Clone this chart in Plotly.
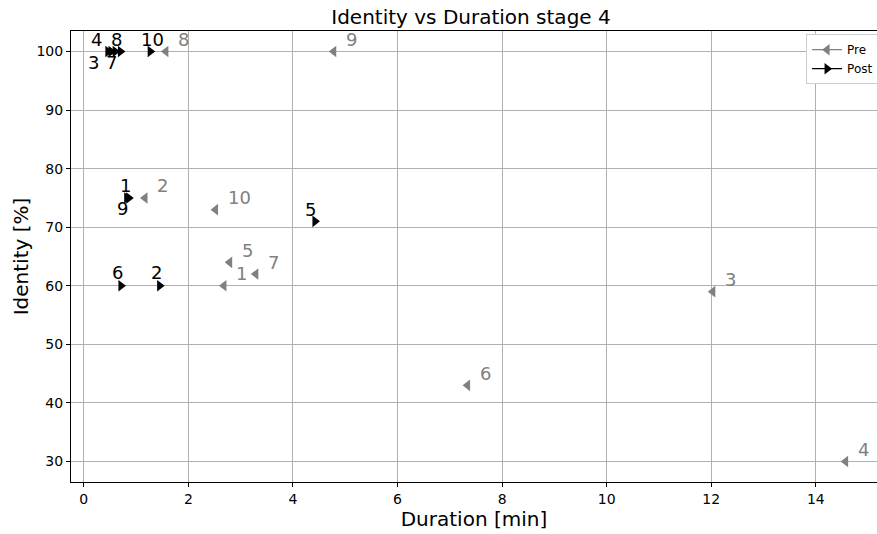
import plotly.graph_objects as go

ids = ["1", "2", "3", "4", "5", "6", "7", "8", "9", "10"]

pre_duration = [2.68, 1.17, 12.03, 14.57, 2.79, 7.34, 3.29, 1.57, 4.78, 2.52]
pre_identity = [60, 75, 59, 30, 64, 43, 62, 100, 100, 73]

post_duration = [0.82, 1.45, 0.52, 0.46, 4.42, 0.71, 0.60, 0.70, 0.86, 1.27]
post_identity = [75, 60, 100, 100, 71, 60, 100, 100, 75, 100]

x_ticks = [0, 2, 4, 6, 8, 10, 12, 14]
y_ticks = [30, 40, 50, 60, 70, 80, 90, 100]

# label pixel offsets (style only)
pre_shift = [(10, 12)] * 10
post_shift = [(-9, 12), (-11, 13), (-25, -11), (-19, 12), (-12, 12),
              (-11, 13), (-11, -11), (-11, 12), (-14, -11), (-11, 12)]

GRAY = "#808080"
FONT = "DejaVu Sans"

fig = go.Figure()
fig.add_trace(go.Scatter(x=pre_duration, y=pre_identity, mode="markers",
                         marker=dict(symbol="triangle-left", size=10, color=GRAY),
                         showlegend=False, hoverinfo="skip"))
fig.add_trace(go.Scatter(x=post_duration, y=post_identity, mode="markers",
                         marker=dict(symbol="triangle-right", size=10, color="black"),
                         showlegend=False, hoverinfo="skip"))
fig.add_trace(go.Scatter(x=[None], y=[None], mode="lines+markers", name="Pre",
                         line=dict(color=GRAY, width=1.2),
                         marker=dict(symbol="triangle-left", size=10, color=GRAY)))
fig.add_trace(go.Scatter(x=[None], y=[None], mode="lines+markers", name="Post",
                         line=dict(color="black", width=1.2),
                         marker=dict(symbol="triangle-right", size=10, color="black")))

ann = []
for i, t in enumerate(ids):
    ann.append(dict(x=pre_duration[i], y=pre_identity[i], text=t, showarrow=False,
                    xanchor="left", yanchor="middle", xshift=pre_shift[i][0],
                    yshift=pre_shift[i][1], font=dict(family=FONT, size=18, color=GRAY)))
for i, t in enumerate(ids):
    ann.append(dict(x=post_duration[i], y=post_identity[i], text=t, showarrow=False,
                    xanchor="left", yanchor="middle", xshift=post_shift[i][0],
                    yshift=post_shift[i][1], font=dict(family=FONT, size=18, color="black")))

fig.update_layout(
    width=877, height=534,
    margin=dict(l=71, r=0, t=31, b=52, autoexpand=False),
    paper_bgcolor="white", plot_bgcolor="white",
    font=dict(family=FONT, size=14, color="black"),
    title=dict(text="Identity vs Duration stage 4", x=471 / 877, xanchor="center",
               y=1 - 17 / 534, yanchor="middle", font=dict(size=20, family=FONT),
               automargin=False),
    annotations=ann,
    legend=dict(x=0.912, y=0.993, xanchor="left", yanchor="top",
                bgcolor="white", bordercolor="#cccccc", borderwidth=1,
                font=dict(size=12, family=FONT), itemwidth=30,
                tracegroupgap=0),
    showlegend=True,
)
fig.update_xaxes(range=[-0.245, 15.17], tickvals=x_ticks, ticktext=[str(v) for v in x_ticks],
                 showgrid=True, gridcolor="#b0b0b0", gridwidth=1, zeroline=False,
                 showline=True, linecolor="black", linewidth=1, mirror=True,
                 ticks="outside", ticklen=4, tickcolor="black", automargin=False,
                 title=dict(text="Duration [min]", font=dict(size=20, family=FONT), standoff=6),
                 tickfont=dict(size=14))
fig.update_yaxes(range=[26.5, 103.5], tickvals=y_ticks, ticktext=[str(v) for v in y_ticks],
                 showgrid=True, gridcolor="#b0b0b0", gridwidth=1, zeroline=False,
                 showline=True, linecolor="black", linewidth=1, mirror=True,
                 ticks="outside", ticklen=4, tickcolor="black", automargin=False,
                 title=dict(text="Identity [%]", font=dict(size=20, family=FONT), standoff=2),
                 tickfont=dict(size=14))

fig.write_html("out.html", config={"displayModeBar": False},
               post_script="document.body.style.margin='0';")
